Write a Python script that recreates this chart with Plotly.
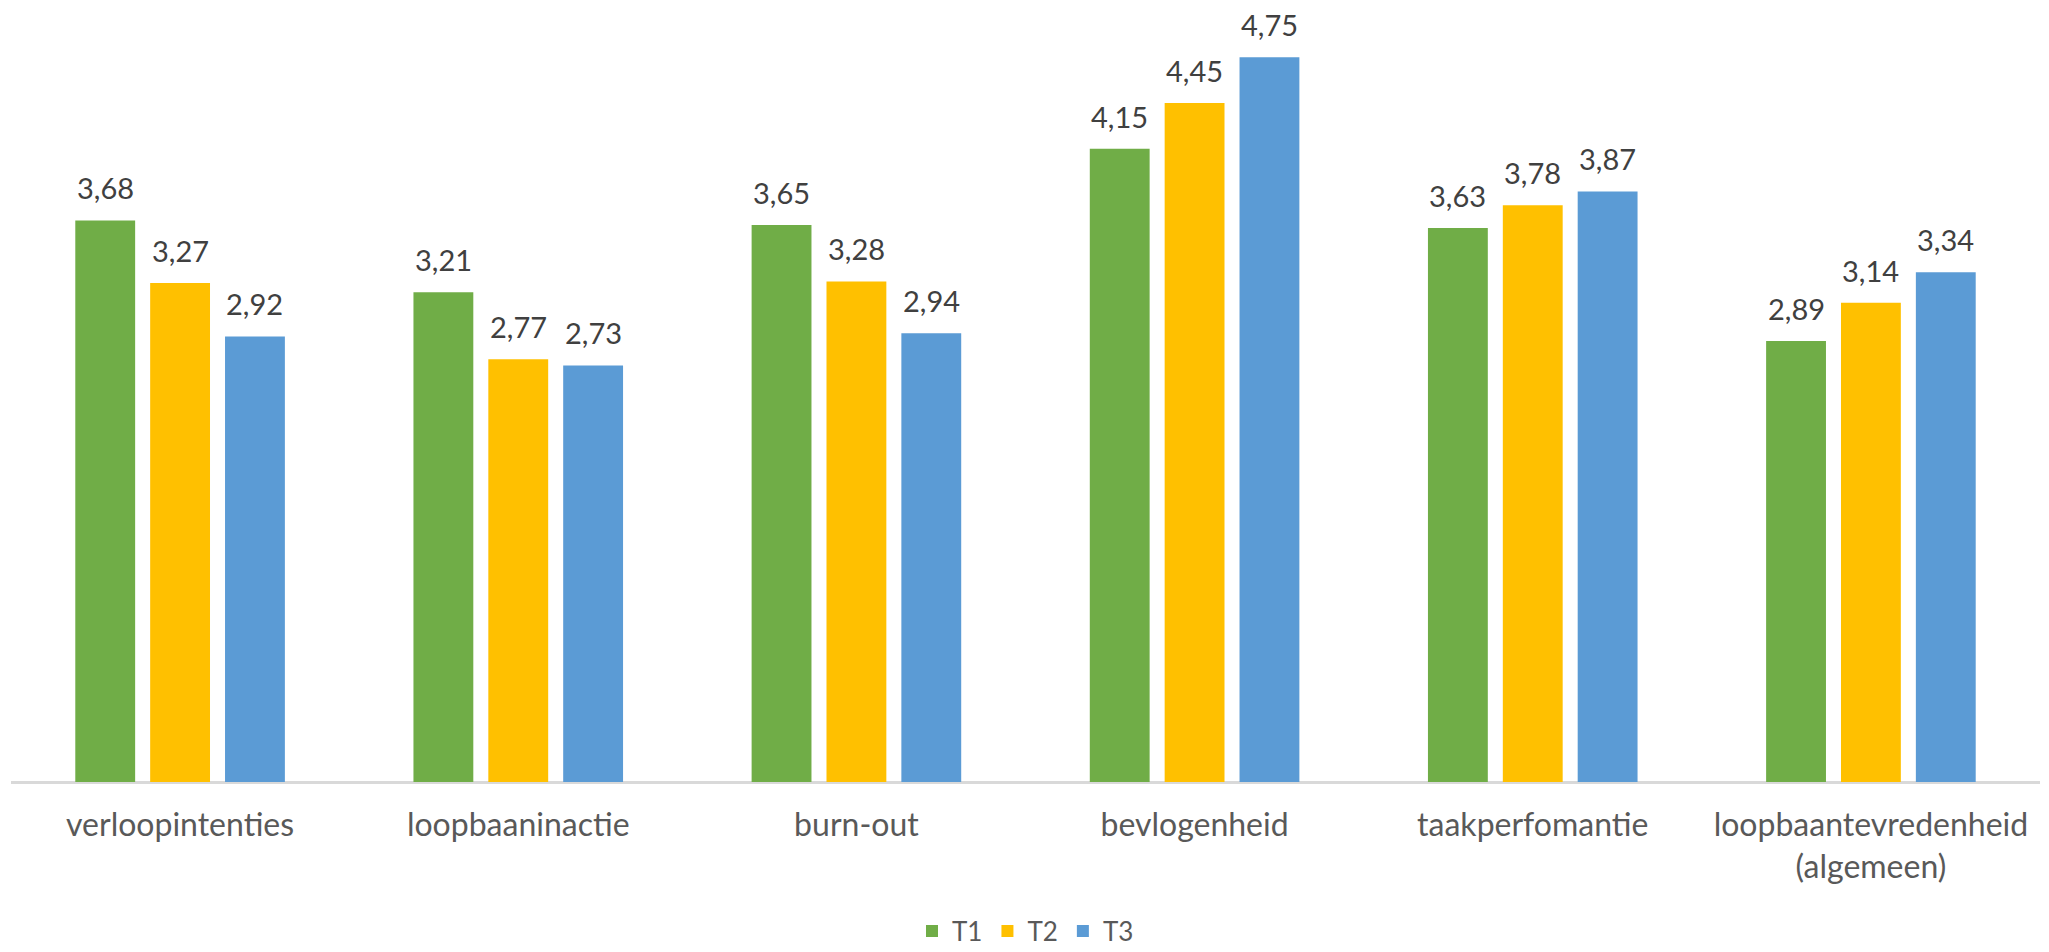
import plotly.graph_objects as go

# Scores per scale at three measurement moments
categories = [
    "verloopintenties",
    "loopbaaninactie",
    "burn-out",
    "bevlogenheid",
    "taakperfomantie",
    "loopbaantevredenheid<br>(algemeen)",
]
series_names = ["T1", "T2", "T3"]
t1_values = [3.68, 3.21, 3.65, 4.15, 3.63, 2.89]
t2_values = [3.27, 2.77, 3.28, 4.45, 3.78, 3.14]
t3_values = [2.92, 2.73, 2.94, 4.75, 3.87, 3.34]
series_colors = ["#70AD47", "#FFC000", "#5B9BD5"]

all_values = [t1_values, t2_values, t3_values]

# Bar geometry in category units (one category = 1.0)
bar_width = 0.177
bar_gap = 0.0444
step = bar_width + bar_gap

fig = go.Figure()
annotations = []
for k, (name, vals, color) in enumerate(zip(series_names, all_values, series_colors)):
    shift = (k - 1) * step
    xs = [i + shift for i in range(len(categories))]
    fig.add_trace(
        go.Bar(
            name=name,
            x=xs,
            y=vals,
            width=bar_width,
            marker=dict(color=color, line=dict(width=0)),
            hoverinfo="skip",
        )
    )
    for x, v in zip(xs, vals):
        annotations.append(
            dict(
                x=x,
                y=v,
                xref="x",
                yref="y",
                text=f"{v:.2f}".replace(".", ","),
                showarrow=False,
                yanchor="bottom",
                yshift=13,
                font=dict(family="Lato", size=29, color="#404040"),
            )
        )

fig.update_layout(
    width=2049,
    height=952,
    margin=dict(l=11, r=9, t=19, b=170, autoexpand=False),
    paper_bgcolor="white",
    plot_bgcolor="white",
    barmode="overlay",
    showlegend=True,
    legend=dict(
        orientation="h",
        x=0.5,
        xanchor="center",
        xref="paper",
        y=0.022,
        yanchor="middle",
        yref="container",
        font=dict(family="Lato", size=26, color="#595959"),
        itemwidth=30,
    ),
    annotations=annotations,
    xaxis=dict(
        range=[-0.5, len(categories) - 0.5],
        tickmode="array",
        tickvals=list(range(len(categories))),
        ticktext=categories,
        showgrid=False,
        zeroline=False,
        showline=False,
        ticks="",
        automargin=False,
        ticklabelstandoff=21,
        tickfont=dict(family="Lato", size=32, color="#595959"),
    ),
    yaxis=dict(
        range=[0, 5],
        showgrid=False,
        zeroline=True,
        zerolinecolor="#D9D9D9",
        zerolinewidth=3,
        showticklabels=False,
        ticks="",
        showline=False,
        automargin=False,
    ),
)

fig.write_html("out.html")
